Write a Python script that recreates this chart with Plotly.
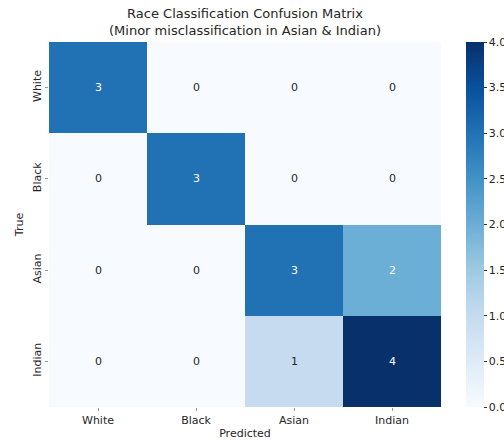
import plotly.graph_objects as go

labels = ["White", "Black", "Asian", "Indian"]
matrix = [
    [3, 0, 0, 0],
    [0, 3, 0, 0],
    [0, 0, 3, 2],
    [0, 0, 1, 4],
]
cbar_ticks = [0.0, 0.5, 1.0, 1.5, 2.0, 2.5, 3.0, 3.5, 4.0]

blues = ["#f7fbff", "#deebf7", "#c6dbef", "#9ecae1", "#6baed6",
         "#4292c6", "#2171b5", "#08519c", "#08306b"]
colorscale = [[i / 8, c] for i, c in enumerate(blues)]

font = "DejaVu Sans"
fig = go.Figure(go.Heatmap(
    z=matrix, x=labels, y=labels, zmin=0, zmax=4,
    colorscale=colorscale, xgap=0, ygap=0,
    colorbar=dict(
        thickness=18, len=1, lenmode="fraction", y=0.5, yanchor="middle",
        x=1.0635, xanchor="left", xpad=0, ypad=0, outlinewidth=0,
        tickvals=cbar_ticks, ticktext=[f"{v:.1f}" for v in cbar_ticks],
        ticks="outside", ticklen=3, tickcolor="#333",
        tickfont=dict(family=font, size=11, color="#262626"),
    ),
    hoverinfo="z",
))

annotations = []
for i, row in enumerate(matrix):
    for j, v in enumerate(row):
        annotations.append(dict(
            x=labels[j], y=labels[i], text=str(v), showarrow=False,
            font=dict(family=font, size=11, color="white" if v >= 2 else "#262626"),
        ))

fig.update_layout(
    width=504, height=440,
    margin=dict(l=49, r=63, t=42, b=33, autoexpand=False),
    paper_bgcolor="white", plot_bgcolor="white",
    title=dict(
        text="Race Classification Confusion Matrix<br>(Minor misclassification in Asian & Indian)",
        x=(49 + 441) / 2 / 504, xanchor="center", y=1 - 18 / 440, yanchor="middle",
        font=dict(family=font, size=13, color="#262626"),
    ),
    xaxis=dict(
        title=dict(text="Predicted", font=dict(family=font, size=11, color="#262626"), standoff=3),
        tickfont=dict(family=font, size=11, color="#262626"), automargin=False,
        ticks="outside", ticklen=3, tickcolor="#999", showgrid=False, zeroline=False,
    ),
    yaxis=dict(
        title=dict(text="True", font=dict(family=font, size=11, color="#262626"), standoff=4),
        tickfont=dict(family=font, size=11, color="#262626"), automargin=False,
        autorange="reversed", tickangle=-90,
        ticks="outside", ticklen=3, tickcolor="#999", showgrid=False, zeroline=False,
    ),
    annotations=annotations,
)

fig.write_html("out.html", config={"displayModeBar": False},
               post_script="document.body.style.margin='0';document.body.style.overflow='hidden';")
